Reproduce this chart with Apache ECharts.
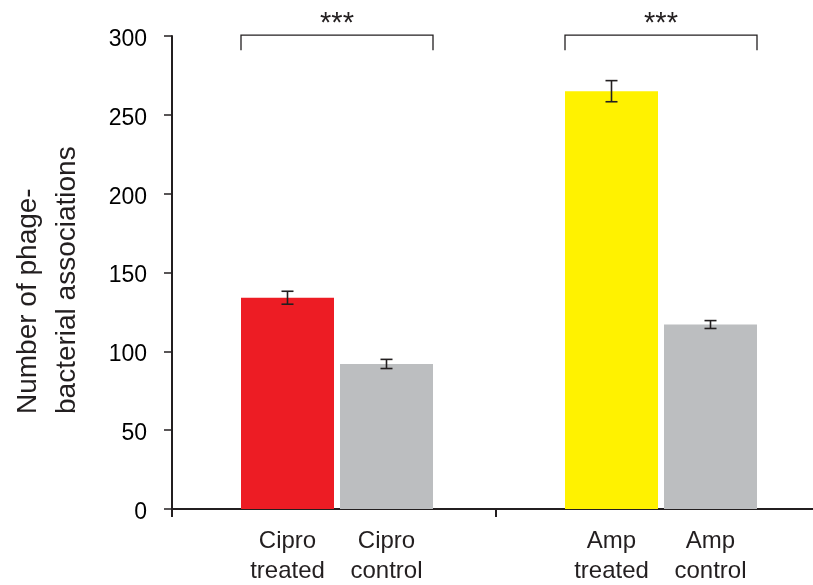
<!DOCTYPE html>
<html>
<head>
<meta charset="utf-8">
<script src="https://cdn.jsdelivr.net/npm/echarts@6/dist/echarts.min.js"></script>
<style>
  html, body { margin: 0; padding: 0; background: #ffffff; }
  #chart { width: 813px; height: 585px; }
</style>
</head>
<body>
<div id="chart"></div>
<script>
// ---- data ----
const categories = ['Cipro', 'Amp'];
const treatedLabels = ['Cipro\ntreated', 'Amp\ntreated'];
const controlLabels = ['Cipro\ncontrol', 'Amp\ncontrol'];
const treatedValues = [134, 265];
const controlValues = [92, 117];
const treatedErrors = [4.1, 6.7];
const controlErrors = [2.9, 2.5];
const sigText = ['***', '***'];
const sigBracketTop = [300.5, 300.5];
const sigBracketLeg = [291, 291];
const yTitle = 'Number of phage-\nbacterial associations';
const yMin = 0, yMax = 300, yInterval = 50;

// ---- styles ----
const FONT = '"Liberation Sans", Arial, sans-serif';
const INK = '#231f20';
const treatedColors = ['#ed1c24', '#fff200'];
const controlColor = '#bcbec0';
const BAR_W = 93;
const BAR_GAP = 6;
const OFFSET = (BAR_W + BAR_GAP) / 2;
const CAP = 6;

const chart = echarts.init(document.getElementById('chart'), null, { renderer: 'canvas' });

function errorBarItem(params, api) {
  const x = api.value(0);
  const mean = api.value(1);
  const err = api.value(2);
  const side = api.value(3);
  const top = api.coord([x, mean + err]);
  const bot = api.coord([x, mean - err]);
  const cx = top[0] + side * OFFSET;
  const st = { stroke: INK, lineWidth: 1.6 };
  return {
    type: 'group',
    children: [
      { type: 'line', shape: { x1: cx, y1: top[1], x2: cx, y2: bot[1] }, style: st },
      { type: 'line', shape: { x1: cx - CAP, y1: top[1], x2: cx + CAP, y2: top[1] }, style: st },
      { type: 'line', shape: { x1: cx - CAP, y1: bot[1], x2: cx + CAP, y2: bot[1] }, style: st }
    ]
  };
}

function bracketItem(params, api) {
  const x = api.value(0);
  const topV = api.value(1);
  const legV = api.value(2);
  const idx = params.dataIndex;
  const pTop = api.coord([x, topV]);
  const pLeg = api.coord([x, legV]);
  const x1 = pTop[0] - BAR_GAP / 2 - BAR_W;
  const x2 = pTop[0] + BAR_GAP / 2 + BAR_W;
  return {
    type: 'group',
    children: [
      {
        type: 'polyline',
        shape: { points: [[x1, pLeg[1]], [x1, pTop[1]], [x2, pTop[1]], [x2, pLeg[1]]] },
        style: { stroke: INK, lineWidth: 1.3, fill: null }
      },
      {
        type: 'text',
        x: pTop[0],
        y: pTop[1] - 11,
        style: {
          text: sigText[idx],
          font: '29px ' + FONT,
          fill: INK,
          align: 'center',
          verticalAlign: 'middle'
        }
      }
    ]
  };
}

const barLabel = {
  show: true,
  position: 'bottom',
  distance: 17,
  color: INK,
  fontFamily: FONT,
  fontSize: 24,
  lineHeight: 30,
  align: 'center'
};

const option = {
  backgroundColor: '#ffffff',
  animation: false,
  grid: [
    // visible axes
    { left: 172, right: -7, top: 36, bottom: 76, containLabel: false, outerBoundsMode: 'none' },
    // plotting grid for the marks (same vertical scale)
    { left: 175, right: -10, top: 36, bottom: 76, containLabel: false, outerBoundsMode: 'none' }
  ],
  xAxis: [
    {
      gridIndex: 0,
      type: 'category',
      data: categories,
      boundaryGap: true,
      axisLine: { show: true, lineStyle: { color: INK, width: 2 } },
      axisTick: { show: true, length: 8, alignWithLabel: false, lineStyle: { color: INK, width: 2 } },
      axisLabel: { show: false },
      splitLine: { show: false }
    },
    {
      gridIndex: 1,
      type: 'category',
      data: categories,
      boundaryGap: true,
      show: false
    }
  ],
  yAxis: [
    {
      gridIndex: 0,
      type: 'value',
      min: yMin,
      max: yMax,
      interval: yInterval,
      axisLine: { show: true, lineStyle: { color: INK, width: 2 } },
      axisTick: { show: true, length: 8, lineStyle: { color: INK, width: 1.5 } },
      axisLabel: {
        margin: 25,
        formatter: function (v) { return '{t|' + v + '}'; },
        rich: {
          t: {
            color: '#000000',
            fontFamily: FONT,
            fontSize: 23,
            padding: [7, 0, 0, 0]
          }
        }
      },
      splitLine: { show: false }
    },
    {
      gridIndex: 1,
      type: 'value',
      min: yMin,
      max: yMax,
      interval: yInterval,
      show: false,
      splitLine: { show: false }
    }
  ],
  graphic: [
    {
      type: 'text',
      x: 9,
      y: 414,
      rotation: Math.PI / 2,
      style: {
        text: yTitle,
        font: '28px ' + FONT,
        fill: INK,
        align: 'left',
        verticalAlign: 'top',
        lineHeight: 39
      }
    }
  ],
  series: [
    {
      type: 'bar',
      name: 'treated',
      xAxisIndex: 1,
      yAxisIndex: 1,
      barWidth: BAR_W,
      barGap: (BAR_GAP / BAR_W * 100).toFixed(2) + '%',
      data: treatedValues.map((v, i) => ({
        value: v,
        itemStyle: { color: treatedColors[i] },
        label: { formatter: treatedLabels[i] }
      })),
      label: barLabel
    },
    {
      type: 'bar',
      name: 'control',
      xAxisIndex: 1,
      yAxisIndex: 1,
      barWidth: BAR_W,
      barGap: (BAR_GAP / BAR_W * 100).toFixed(2) + '%',
      data: controlValues.map((v, i) => ({
        value: v,
        itemStyle: { color: controlColor },
        label: { formatter: controlLabels[i] }
      })),
      label: barLabel
    },
    {
      type: 'custom',
      name: 'errors',
      xAxisIndex: 1,
      yAxisIndex: 1,
      renderItem: errorBarItem,
      clip: false,
      z: 10,
      encode: { x: 0, y: 1 },
      data: categories.map((c, i) => [i, treatedValues[i], treatedErrors[i], -1])
        .concat(categories.map((c, i) => [i, controlValues[i], controlErrors[i], 1]))
    },
    {
      type: 'custom',
      name: 'significance',
      xAxisIndex: 1,
      yAxisIndex: 1,
      renderItem: bracketItem,
      clip: false,
      z: 10,
      encode: { x: 0, y: 1 },
      data: categories.map((c, i) => [i, sigBracketTop[i], sigBracketLeg[i]])
    }
  ]
};

chart.setOption(option);
</script>
</body>
</html>
